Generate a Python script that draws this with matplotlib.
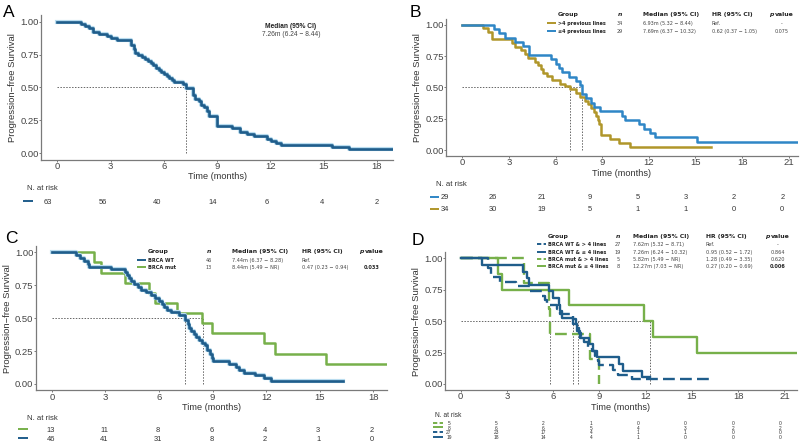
import numpy as np
import matplotlib
matplotlib.use("Agg")
from matplotlib import pyplot as plt
import matplotlib.patheffects as pe

W, H = 800, 447

# ---- Panel A: whole cohort ----
A_TIME = [0, 1.33, 1.55, 1.8, 2.03, 2.37, 2.78, 3.03, 3.38, 4.14, 4.3, 4.4, 4.55, 4.75,
          4.95, 5.1, 5.25, 5.4, 5.55, 5.7, 5.85, 6.0, 6.15, 6.3, 6.45, 6.55, 7.05, 7.25,
          7.65, 7.75, 7.95, 8.1, 8.25, 8.4, 8.55, 9.0, 9.85, 10.3, 10.7, 11.05, 11.8,
          12.05, 12.3, 12.6, 15.45, 16.4, 18.9]
A_SURV = [1.0, 0.984, 0.968, 0.952, 0.921, 0.905, 0.889, 0.873, 0.857, 0.825, 0.794, 0.762,
          0.746, 0.730, 0.714, 0.698, 0.683, 0.667, 0.651, 0.635, 0.619, 0.603, 0.587,
          0.571, 0.556, 0.540, 0.524, 0.492, 0.444, 0.413, 0.397, 0.365, 0.349, 0.317,
          0.286, 0.206, 0.190, 0.159, 0.143, 0.127, 0.111, 0.095, 0.079, 0.063, 0.048,
          0.032, 0.032]
A_MEDIAN = 7.26
A_TICKS = [0, 3, 6, 9, 12, 15, 18]
A_RISK = [63, 56, 40, 14, 6, 4, 2]

# ---- Panel B: previous lines ----
B_LOW_TIME = [0, 2.06, 2.36, 2.72, 3.39, 3.88, 4.3, 5.7, 6.0, 6.2, 6.4, 6.85, 7.3, 7.55,
              7.69, 7.95, 8.25, 8.5, 8.85, 10.3, 10.5, 11.4, 11.7, 12.05, 12.4, 15.1, 21.6]
B_LOW_SURV = [1.0, 0.966, 0.931, 0.897, 0.862, 0.828, 0.759, 0.724, 0.690, 0.655, 0.621,
              0.586, 0.552, 0.517, 0.448, 0.414, 0.379, 0.345, 0.310, 0.276, 0.241, 0.207,
              0.172, 0.138, 0.103, 0.069, 0.069]
B_HIGH_TIME = [0, 1.35, 1.67, 1.9, 3.17, 3.39, 3.75, 4.03, 4.24, 4.67, 4.85, 5.06, 5.2,
               5.42, 5.74, 6.28, 6.6, 6.93, 7.3, 7.6, 7.9, 8.1, 8.3, 8.45, 8.6, 8.7, 8.8,
               8.9, 9.5, 10.1, 10.8, 16.03]
B_HIGH_SURV = [1.0, 0.971, 0.941, 0.882, 0.853, 0.824, 0.794, 0.765, 0.735, 0.706, 0.676,
               0.647, 0.618, 0.588, 0.559, 0.529, 0.515, 0.485, 0.455, 0.424, 0.394, 0.364,
               0.333, 0.303, 0.273, 0.242, 0.212, 0.121, 0.091, 0.059, 0.029, 0.029]
B_MEDIANS = [7.69, 6.93]
B_TICKS = [0, 3, 6, 9, 12, 15, 18, 21]
B_RISK_LOW = [29, 26, 21, 9, 5, 3, 2, 2]
B_RISK_HIGH = [34, 30, 19, 5, 1, 1, 0, 0]
B_GROUPS = [">4 previous lines", "\u22644 previous lines"]
B_N = ["34", "29"]
B_MED_TXT = ["6.93m (5.32 \u2212 8.44)", "7.69m (6.37 \u2212 10.32)"]
B_HR_TXT = ["Ref.", "0.62 (0.37 \u2212 1.05)"]
B_P_TXT = ["-", "0.075"]

# ---- Panel C: BRCA status ----
C_WT_TIME = [0, 1.36, 1.6, 1.8, 2.0, 2.1, 3.3, 4.1, 4.2, 4.35, 4.45, 4.6, 4.8, 5.0, 5.3,
             5.55, 5.8, 6.0, 6.15, 6.3, 6.45, 6.65, 7.1, 7.44, 7.6, 7.7, 7.8, 7.95, 8.1,
             8.25, 8.4, 8.55, 8.7, 8.85, 8.95, 9.05, 9.9, 10.3, 10.5, 10.75, 11.4, 11.9,
             12.3, 16.3]
C_WT_SURV = [1.0, 0.978, 0.957, 0.935, 0.913, 0.891, 0.870, 0.848, 0.826, 0.804, 0.783,
             0.761, 0.739, 0.717, 0.696, 0.674, 0.652, 0.630, 0.609, 0.587, 0.565, 0.543,
             0.522, 0.489, 0.457, 0.424, 0.402, 0.380, 0.359, 0.337, 0.315, 0.293, 0.261,
             0.228, 0.196, 0.174, 0.152, 0.130, 0.109, 0.087, 0.065, 0.043, 0.022, 0.022]
C_MUT_TIME = [0, 2.39, 2.74, 4.1, 5.45, 5.8, 7.0, 8.43, 8.96, 11.9, 12.5, 15.35, 18.75]
C_MUT_SURV = [1.0, 0.923, 0.846, 0.769, 0.692, 0.615, 0.538, 0.462, 0.385, 0.308, 0.231,
              0.154, 0.154]
C_MEDIANS = [7.44, 8.44]
C_TICKS = [0, 3, 6, 9, 12, 15, 18]
C_RISK_MUT = [13, 11, 8, 6, 4, 3, 2]
C_RISK_WT = [46, 41, 31, 8, 2, 1, 0]
C_GROUPS = ["BRCA WT", "BRCA mut"]
C_N = ["46", "13"]
C_MED_TXT = ["7.44m (6.37 \u2212 8.28)", "8.44m (5.49 \u2212 NR)"]
C_HR_TXT = ["Ref.", "0.47 (0.23 \u2212 0.94)"]
C_P_TXT = ["-", "0.033"]

# ---- Panel D: BRCA status x previous lines ----
D_WT_HIGH_TIME = [0, 1.75, 1.95, 2.55, 3.6, 4.5, 5.25, 5.45, 5.6, 6.25, 6.45, 7.3, 7.5,
                  7.62, 7.7, 7.8, 8.0, 8.25, 8.5, 8.7, 8.9, 9.0, 9.9, 10.2, 11.1, 16.2]
D_WT_HIGH_SURV = [1.0, 0.926, 0.852, 0.815, 0.778, 0.741, 0.704, 0.667, 0.630, 0.593,
                  0.556, 0.519, 0.481, 0.444, 0.407, 0.370, 0.333, 0.296, 0.259, 0.222,
                  0.185, 0.148, 0.111, 0.074, 0.037, 0.037]
D_WT_LOW_TIME = [0, 1.4, 4.07, 4.3, 4.45, 5.7, 6.0, 6.35, 6.45, 6.6, 7.26, 7.55, 7.75,
                 8.35, 8.6, 8.85, 10.3, 10.55, 11.75, 12.25]
D_WT_LOW_SURV = [1.0, 0.947, 0.895, 0.842, 0.789, 0.737, 0.684, 0.632, 0.579, 0.526,
                 0.474, 0.421, 0.368, 0.316, 0.263, 0.211, 0.158, 0.105, 0.053, 0.053]
D_MUT_HIGH_TIME = [0, 4.1, 5.76, 5.82, 8.4, 9.0]
D_MUT_HIGH_SURV = [1.0, 0.8, 0.6, 0.4, 0.2, 0.0]
D_MUT_LOW_TIME = [0, 2.4, 2.66, 7.04, 11.86, 12.5, 15.33, 21.8]
D_MUT_LOW_SURV = [1.0, 0.875, 0.75, 0.625, 0.5, 0.375, 0.25, 0.25]
D_MEDIANS = [7.62, 7.26, 5.82, 12.27]
D_TICKS = [0, 3, 6, 9, 12, 15, 18, 21]
D_RISK_MUT_HIGH = [5, 5, 2, 1, 0, 0, 0, 0]
D_RISK_MUT_LOW = [8, 6, 6, 5, 4, 3, 2, 2]
D_RISK_WT_HIGH = [27, 23, 17, 4, 1, 1, 0, 0]
D_RISK_WT_LOW = [19, 18, 14, 4, 1, 0, 0, 0]
D_GROUPS = ["BRCA WT & > 4 lines", "BRCA WT & \u2264 4 lines",
            "BRCA mut & > 4 lines", "BRCA mut & \u2264 4 lines"]
D_N = ["27", "19", "5", "8"]
D_MED_TXT = ["7.62m (5.32 \u2212 8.71)", "7.26m (6.24 \u2212 10.32)",
             "5.82m (5.49 \u2212 NR)", "12.27m (7.03 \u2212 NR)"]
D_HR_TXT = ["Ref.", "0.95 (0.52 \u2212 1.72)", "1.28 (0.49 \u2212 3.35)", "0.27 (0.20 \u2212 0.69)"]
D_P_TXT = ["-", "0.864", "0.620", "0.006"]

DARK_BLUE = "#1f5d8b"
LIGHT_BLUE = "#2f86c6"
GOLD = "#b0962a"
GREEN = "#77b04a"
HALO = [pe.Stroke(linewidth=3.0, foreground="#b9dcef"), pe.Normal()]

AX_FONT = "Liberation Sans"
LEG_FONT = "DejaVu Sans"
DASH = (0, (5, 2.2))
KEY_DASH = (0, (2.2, 1.2))


def px_axes(fig, left, top, right, bottom):
    return fig.add_axes([left / W, 1 - bottom / H, (right - left) / W, (bottom - top) / H])


def km_axes(fig, box, xlim, ticks):
    ax = px_axes(fig, *box)
    ax.set_xlim(*xlim)
    ax.set_ylim(-0.048, 1.048)
    ax.set_xticks(ticks)
    ax.set_yticks([0, 0.25, 0.5, 0.75, 1.0])
    ax.set_yticklabels(["0.00", "0.25", "0.50", "0.75", "1.00"])
    for s in ["top", "right"]:
        ax.spines[s].set_visible(False)
    for s in ["left", "bottom"]:
        ax.spines[s].set_color("#7a7a7a")
        ax.spines[s].set_linewidth(0.9)
    ax.tick_params(length=1.2, width=0.7, color="#7a7a7a", pad=0.4,
                   labelsize=6.8, labelcolor="#444444")
    for lab in ax.get_xticklabels() + ax.get_yticklabels():
        lab.set_family(AX_FONT)
    ax.set_xlabel("Time (months)", fontsize=6.6, family=AX_FONT, color="#333333", labelpad=1.2)
    ax.set_ylabel("Progression\u2212free Survival", fontsize=6.8, family=AX_FONT,
                  color="#333333", labelpad=2.5)
    ax.patch.set_alpha(0)
    return ax


def median_lines(ax, medians):
    ax.plot([0, max(medians)], [0.5, 0.5], color="#666666", lw=0.7, ls=(0, (1.5, 1.5)))
    for m in medians:
        ax.plot([m, m], [0, 0.5], color="#666666", lw=0.7, ls=(0, (1.5, 1.5)))


def risk_table(fig, t0_px, tmax_px, row0_px, gap, ticks, rows, size):
    n = len(rows)
    ax = px_axes(fig, t0_px, row0_px - gap / 2, tmax_px, row0_px - gap / 2 + n * gap)
    ax.set_xlim(ticks[0], ticks[-1])
    ax.set_ylim(n - 0.5, -0.5)
    ax.axis("off")
    for i, vals in enumerate(rows):
        for t, v in zip(ticks, vals):
            ax.text(t, i, str(v), ha="center", va="center_baseline", fontsize=size,
                    family=AX_FONT, color="#333333")
    return ax


def legend_table(ov, cols, header_y, row_ys, groups, ns, meds, hrs, ps, styles, bold_p, size):
    gx, nx, mx, hx, px = cols
    hb = header_y + 1.6
    hdr = dict(fontsize=4.4, family=LEG_FONT, fontweight="bold", va="baseline", color="#222222")
    ov.text(gx, hb, "Group", ha="left", **hdr)
    ov.text(nx, hb, "n", ha="center", fontstyle="italic", **hdr)
    ov.text(mx, hb, "Median (95% CI)", ha="left", **hdr)
    ov.text(hx, hb, "HR (95% CI)", ha="left", **hdr)
    ov.text(px - 8.2, hb, "p", ha="right", fontstyle="italic", **hdr)
    ov.text(px - 6.6, hb, "value", ha="left", **hdr)
    for i, y in enumerate(row_ys):
        color, ls = styles[i]
        ov.plot([gx - 11, gx - 2], [y, y], color=color, lw=1.4, ls=ls, solid_capstyle="butt")
        ov.text(gx, y, groups[i], ha="left", va="center_baseline", fontsize=size,
                family=LEG_FONT, fontweight="bold", color="#222222")
        ov.text(nx, y, ns[i], ha="center", va="center_baseline", fontsize=size,
                family=LEG_FONT, color="#444444")
        ov.text(mx, y, meds[i], ha="left", va="center_baseline", fontsize=size,
                family=LEG_FONT, color="#444444")
        ov.text(hx, y, hrs[i], ha="left", va="center_baseline", fontsize=size,
                family=LEG_FONT, color="#444444")
        ov.text(px, y, ps[i], ha="center", va="center_baseline", fontsize=size,
                family=LEG_FONT, color="#222222" if bold_p[i] else "#444444",
                fontweight="bold" if bold_p[i] else "normal")


fig = plt.figure(figsize=(8.0, 4.47), dpi=100)
fig.patch.set_facecolor("white")

# ---------------- Panel A ----------------
axA = km_axes(fig, (41, 15.3, 393, 159.5), (-0.92, 18.9), A_TICKS)
median_lines(axA, [A_MEDIAN])
axA.step(A_TIME, A_SURV, where="post", color=DARK_BLUE, lw=1.9, path_effects=HALO)
risk_table(fig, 47.7, 376.7, 201, 10, A_TICKS, [A_RISK], 5.4)

# ---------------- Panel B ----------------
axB = km_axes(fig, (446, 18.6, 798, 156.2), (-1.05, 21.6), B_TICKS)
median_lines(axB, B_MEDIANS)
axB.step(B_HIGH_TIME, B_HIGH_SURV, where="post", color=GOLD, lw=1.8)
axB.step(B_LOW_TIME, B_LOW_SURV, where="post", color=LIGHT_BLUE, lw=1.8)
risk_table(fig, 445, 782.3, 197, 12, B_TICKS, [B_RISK_LOW, B_RISK_HIGH], 5.4)

# ---------------- Panel C ----------------
axC = km_axes(fig, (35.7, 246, 386.7, 390.3), (-0.9, 18.75), C_TICKS)
median_lines(axC, C_MEDIANS)
axC.step(C_MUT_TIME, C_MUT_SURV, where="post", color=GREEN, lw=1.8)
axC.step(C_WT_TIME, C_WT_SURV, where="post", color=DARK_BLUE, lw=1.9, path_effects=HALO)
risk_table(fig, 51, 371.7, 429, 9.3, C_TICKS, [C_RISK_MUT, C_RISK_WT], 5.4)

# ---------------- Panel D ----------------
axD = km_axes(fig, (445, 252.3, 796.7, 390.0), (-1.02, 21.8), D_TICKS)
median_lines(axD, D_MEDIANS)
axD.step(D_MUT_LOW_TIME, D_MUT_LOW_SURV, where="post", color=GREEN, lw=1.7)
axD.step(D_MUT_HIGH_TIME, D_MUT_HIGH_SURV, where="post", color=GREEN, lw=1.7, ls=DASH)
axD.step(D_WT_HIGH_TIME, D_WT_HIGH_SURV, where="post", color=DARK_BLUE, lw=1.7, ls=DASH)
axD.step(D_WT_LOW_TIME, D_WT_LOW_SURV, where="post", color=DARK_BLUE, lw=1.7)
risk_table(fig, 449, 780, 422.7, 4.9, D_TICKS,
           [D_RISK_MUT_HIGH, D_RISK_MUT_LOW, D_RISK_WT_HIGH, D_RISK_WT_LOW], 3.5)

# ---------------- overlay: letters, legends, risk keys ----------------
ov = fig.add_axes([0, 0, 1, 1], zorder=10)
ov.set_xlim(0, W)
ov.set_ylim(H, 0)
ov.axis("off")

for letter, x, y in [("A", 3, 17), ("B", 410, 17), ("C", 5, 243), ("D", 412, 245)]:
    ov.text(x, y, letter, fontsize=12.5, family=AX_FONT, va="baseline", ha="left")

ov.text(291, 26, "Median (95% CI)", ha="center", va="center_baseline", fontsize=4.8,
        family=AX_FONT, fontweight="bold", color="#222222")
ov.text(291, 34, "%.2fm (6.24 \u2212 8.44)" % A_MEDIAN, ha="center", va="center_baseline",
        fontsize=4.8, family=AX_FONT, color="#444444")

legend_table(ov, (558, 620, 643, 712, 782), 14.5, [23.3, 31], B_GROUPS, B_N, B_MED_TXT,
             B_HR_TXT, B_P_TXT, [(GOLD, "-"), (LIGHT_BLUE, "-")], [False, False], 3.5)
legend_table(ov, (148, 209, 232, 302, 372), 251, [259.7, 267], C_GROUPS, C_N, C_MED_TXT,
             C_HR_TXT, C_P_TXT, [(DARK_BLUE, "-"), (GREEN, "-")], [False, True], 3.6)
legend_table(ov, (548, 618, 633, 706, 778), 236.5, [244.3, 251.7, 259, 266], D_GROUPS, D_N,
             D_MED_TXT, D_HR_TXT, D_P_TXT,
             [(DARK_BLUE, KEY_DASH), (DARK_BLUE, "-"), (GREEN, KEY_DASH), (GREEN, "-")],
             [False, False, False, True], 3.6)

# risk table titles and keys
risk_keys = [
    (27, 187, 5.6, [(23, 33, 201, DARK_BLUE, "-")]),
    (436, 183, 5.6, [(430, 439, 197, LIGHT_BLUE, "-"), (430, 439, 209, GOLD, "-")]),
    (27, 417.7, 5.6, [(18, 28, 429, GREEN, "-"), (18, 28, 438.3, DARK_BLUE, "-")]),
    (435, 414.3, 4.8, [(433, 443, 422.7, GREEN, KEY_DASH), (433, 443, 427.3, GREEN, "-"),
                       (433, 443, 432.3, DARK_BLUE, KEY_DASH),
                       (433, 443, 437.3, DARK_BLUE, "-")]),
]
for tx, ty, tsize, keys in risk_keys:
    ov.text(tx, ty, "N. at risk", ha="left", va="center_baseline", fontsize=tsize,
            family=AX_FONT, color="#333333")
    for x0, x1, y, color, ls in keys:
        ov.plot([x0, x1], [y, y], color=color, lw=1.4, ls=ls, solid_capstyle="butt")

fig.savefig("out.png", dpi=100)
